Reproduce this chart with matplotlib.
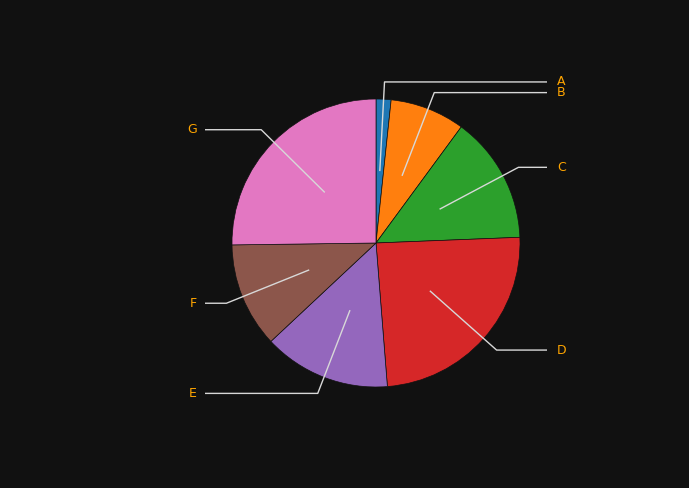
import numpy as np
import matplotlib
matplotlib.use("Agg")
import matplotlib.pyplot as plt

labels = ["A", "B", "C", "D", "E", "F", "G"]
values = [2, 10, 17, 29, 17, 14, 30]
colors = ["#1f77b4", "#ff7f0e", "#2ca02c", "#d62728", "#9467bd", "#8c564b", "#e377c2"]

bg = "#111111"
fig = plt.figure(figsize=(6.89, 4.88), dpi=100, facecolor=bg)
ax = fig.add_axes([0, 0, 1, 1])
ax.set_facecolor(bg)

cx, cy, r = 376, 245, 144
wedges, _ = ax.pie(values, colors=colors, startangle=90, counterclock=False,
                   center=(cx, cy), radius=r,
                   wedgeprops=dict(edgecolor=bg, linewidth=0.5))

for w, lab in zip(wedges, labels):
    ang = np.deg2rad((w.theta1 + w.theta2) / 2)
    x0, y0 = cx + 0.5 * r * np.cos(ang), cy + 0.5 * r * np.sin(ang)
    x1, y1 = cx + 1.12 * r * np.cos(ang), cy + 1.12 * r * np.sin(ang)
    right = np.cos(ang) >= 0
    x2 = 547 if right else 205
    ax.plot([x0, x1, x2], [y0, y1, y1], color="#d8d8d8", lw=1, solid_capstyle="butt")
    ax.text(x2 + 10 if right else x2 - 8, y1, lab, color="orange", fontsize=9,
            ha="left" if right else "right", va="center")

ax.set_xlim(0, 689)
ax.set_ylim(0, 488)
ax.set_aspect("equal")
ax.axis("off")
fig.savefig("out.png", dpi=100, facecolor=bg)
